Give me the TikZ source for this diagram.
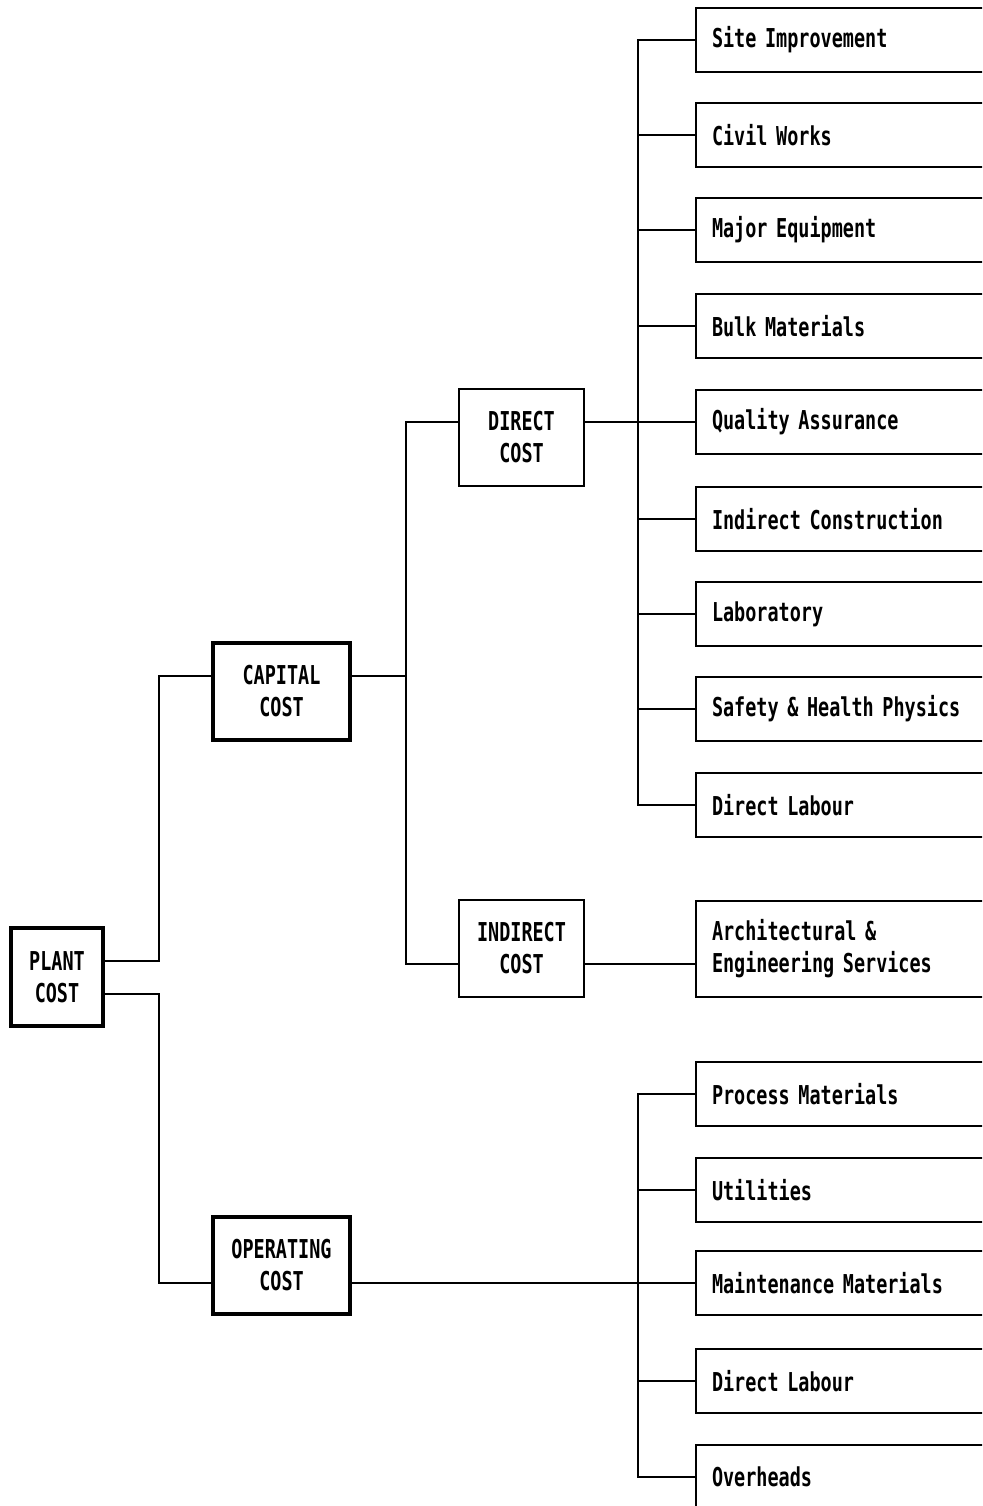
\documentclass[tikz,border=0pt]{standalone}
\usepackage{fontspec}
\newfontfamily\dotfont[FakeStretch=0.71]{DejaVu Sans Mono Bold}
\begin{document}
\begin{tikzpicture}[x=1pt,y=-1pt,
  conn/.style={line width=2pt},
  box/.style={draw,line width=2pt,align=center,inner sep=0pt,
    font=\dotfont\fontsize{26}{32}\selectfont},
  heavybox/.style={box,line width=4.5pt},
  leaf/.style={draw,line width=2pt,anchor=west,minimum height=64pt,
    text width=268pt,inner xsep=16pt,inner ysep=0pt,align=left,
    font=\dotfont\fontsize{26}{32}\selectfont}]
\useasboundingbox (0,0) rectangle (982,1506);
\clip (0,0) rectangle (982,1506);

% root and first level
\node[heavybox,minimum width=92pt,minimum height=98pt] (plant) at (57,977) {PLANT\\COST};
\node[heavybox,minimum width=137pt,minimum height=97pt] (capital) at (281.5,691.5) {CAPITAL\\COST};
\node[heavybox,minimum width=137pt,minimum height=97pt] (operating) at (281.5,1265.5) {OPERATING\\COST};

% capital cost split
\node[box,minimum width=125pt,minimum height=97pt] (direct) at (521.5,437.5) {DIRECT\\COST};
\node[box,minimum width=125pt,minimum height=97pt] (indirect) at (521.5,948.5) {INDIRECT\\COST};

% direct cost items
\node[leaf] (site)   at (695,40)  {Site Improvement};
\node[leaf] (civil)  at (695,135) {Civil Works};
\node[leaf] (major)  at (695,230) {Major Equipment};
\node[leaf] (bulk)   at (695,326) {Bulk Materials};
\node[leaf] (qa)     at (695,421.5) {Quality Assurance};
\node[leaf] (indc)   at (695,519) {Indirect Construction};
\node[leaf] (lab)    at (695,614) {Laboratory};
\node[leaf] (safety) at (695,709) {Safety \& Health Physics};
\node[leaf] (dlab)   at (695,805) {Direct Labour};

% indirect cost item
\node[leaf,minimum height=96pt] (arch) at (695,948.5) {Architectural \&\\Engineering Services};

% operating cost items
\node[leaf] (procm) at (695,1094) {Process Materials};
\node[leaf] (util)  at (695,1190) {Utilities};
\node[leaf] (maint) at (695,1283) {Maintenance Materials};
\node[leaf] (olab)  at (695,1381) {Direct Labour};
\node[leaf] (over)  at (695,1477) {Overheads};

\coordinate (busA) at (638,421.5);
\coordinate (busB) at (638,1283);

% plant cost branches
\draw[conn] ([yshift=16pt]plant.east) -- ++(54,0) |- ([yshift=16pt]capital.west);
\draw[conn] ([yshift=-17pt]plant.east) -- ++(54,0) |- ([yshift=-17.5pt]operating.west);

% capital cost branches
\draw[conn] ([yshift=16pt]capital.east) -- ++(54,0) coordinate (cj);
\draw[conn] ([yshift=16pt]direct.west) -| (cj) |- ([yshift=-15pt]indirect.west);

% direct cost bus
\draw[conn] ([yshift=16pt]direct.east) -- (qa.west);
\draw[conn] (site.west) -| (busA) |- (dlab.west);
\foreach \n in {civil,major,bulk,indc,lab,safety}
  \draw[conn] (\n.west) -- (\n.west -| busA);

% indirect cost link
\draw[conn] ([yshift=-15pt]indirect.east) -- ([yshift=-15pt]arch.west);

% operating cost bus
\draw[conn] ([yshift=-17.5pt]operating.east) -- (maint.west);
\draw[conn] (procm.west) -| (busB) |- (over.west);
\foreach \n in {util,olab}
  \draw[conn] (\n.west) -- (\n.west -| busB);
\end{tikzpicture}
\end{document}
